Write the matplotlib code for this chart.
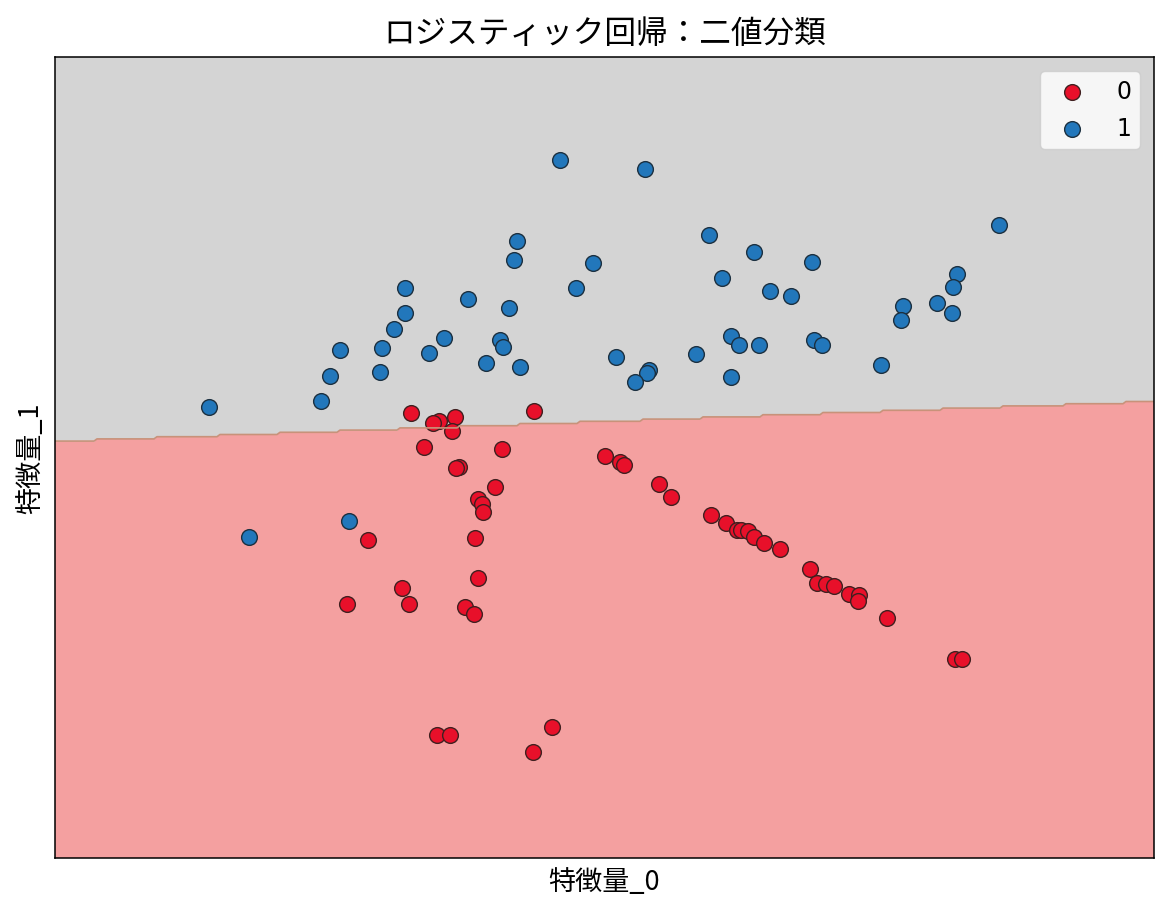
import numpy as np
import matplotlib
matplotlib.use('Agg')
import matplotlib.pyplot as plt

plt.rcParams['font.family'] = ['Noto Sans CJK JP', 'DejaVu Sans']

# class 0
x0 = [411, 534, 455, 439, 433, 452, 424, 502, 605, 620, 624, 459, 456, 659, 495, 671, 478,
      482, 483, 711, 726, 737, 741, 748, 754, 764, 780, 475, 368, 810, 478, 817, 826, 834,
      402, 849, 859, 858, 347, 409, 465, 474, 887, 955, 962, 552, 437, 450, 533]
y0 = [499, 501, 495, 491, 489, 481, 465, 463, 456, 450, 447, 445, 444, 428, 425, 415, 413,
      408, 400, 397, 389, 382, 382, 381, 375, 369, 363, 374, 372, 343, 334, 329, 328, 326,
      324, 318, 317, 311, 308, 308, 305, 298, 294, 253, 253, 185, 177, 177, 160]

# class 1
x1 = [560, 645, 999, 709, 517, 754, 514, 593, 812, 957, 722, 576, 953, 405, 770, 791, 468,
      509, 903, 937, 405, 952, 901, 394, 444, 500, 731, 739, 759, 814, 822, 340, 382, 503,
      429, 616, 696, 486, 520, 881, 380, 649, 647, 330, 731, 635, 321, 209, 349, 249]
y1 = [752, 743, 687, 677, 671, 660, 652, 649, 650, 638, 634, 624, 625, 624, 621, 616, 613,
      604, 606, 609, 599, 599, 592, 583, 574, 572, 576, 567, 567, 572, 567, 562, 564, 565,
      559, 555, 558, 549, 545, 547, 540, 542, 539, 536, 535, 530, 511, 505, 391, 375]

# fitted model: w0*x + w1*y + c
w0, w1, c = -0.0364, 1.0, -468.5

xlim = (55, 1154)
ylim = (54, 855)

fig = plt.figure(figsize=(11.68, 9.12), dpi=100)
ax = fig.add_axes([55 / 1168, 1 - 859 / 912, 1099 / 1168, 801 / 912])

xx, yy = np.meshgrid(np.arange(xlim[0], xlim[1] + 3, 3.0), np.arange(ylim[0], ylim[1] + 2.2, 2.2))
Z = (w0 * xx + w1 * yy + c > 0).astype(int)
ax.contourf(xx, yy, Z, levels=[-0.5, 0.5, 1.5], colors=['#f4a0a0', '#d4d4d4'])
ax.contour(xx, yy, Z, levels=[0.5], colors=['#c8927a'], linewidths=1.2)

ax.scatter(x0, y0, s=128, c='#e8102a', edgecolors='#402020', linewidths=1.0, label='0')
ax.scatter(x1, y1, s=128, c='#2277bb', edgecolors='#1c3040', linewidths=1.0, label='1')

ax.set_xlim(xlim)
ax.set_ylim(ylim)
ax.set_xticks([])
ax.set_yticks([])
for s in ax.spines.values():
    s.set_linewidth(1.1)

ax.set_title('ロジスティック回帰：二値分類', fontsize=22.8, pad=11)
ax.set_xlabel('特徴量_0', fontsize=19.5, labelpad=7)
ax.set_ylabel('特徴量_1', fontsize=19.5, labelpad=8)
ax.legend(loc='upper right', prop={'family': 'DejaVu Sans', 'size': 17}, handletextpad=0.9,
          borderpad=0.35, labelspacing=0.55, borderaxespad=0.6, framealpha=0.8)

fig.savefig('out.png', dpi=100)
